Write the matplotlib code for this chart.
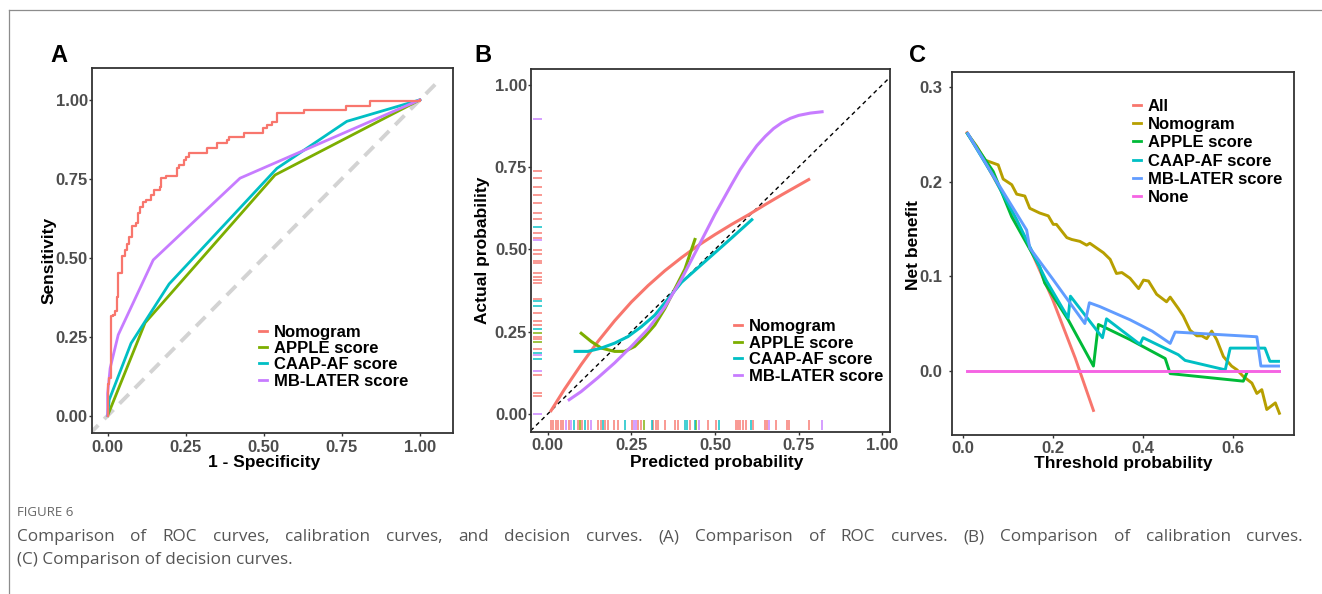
import matplotlib
matplotlib.use("Agg")
import matplotlib.pyplot as plt
from matplotlib.lines import Line2D

plt.rcParams['font.family'] = ['Liberation Sans', 'DejaVu Sans']

# ---- colours (ggplot hue palette) ----
models = ['Nomogram', 'APPLE score', 'CAAP-AF score', 'MB-LATER score']
colors4 = ['#F8766D', '#7CAE00', '#00BFC4', '#C77CFF']
dca_labels = ['All', 'Nomogram', 'APPLE score', 'CAAP-AF score', 'MB-LATER score', 'None']
colors6 = ['#F8766D', '#B79F00', '#00BA38', '#00BFC4', '#619CFF', '#F564E3']

# ---- A: ROC curves ----
roc_nomo_fpr = [0, 0, 0.004, 0.010, 0.017, 0.023, 0.029, 0.034, 0.047, 0.055,
                0.062, 0.068, 0.077, 0.091, 0.098, 0.103, 0.112, 0.123, 0.139, 0.150,
                0.167, 0.172, 0.186, 0.223, 0.230, 0.244, 0.250, 0.260, 0.317, 0.349,
                0.383, 0.389, 0.437, 0.498, 0.509, 0.525, 0.541, 0.543, 0.628, 0.762,
                0.840, 1.0]
roc_nomo_tpr = [0, 0.10, 0.12, 0.314, 0.320, 0.330, 0.377, 0.451, 0.504, 0.525,
                0.545, 0.567, 0.599, 0.609, 0.641, 0.662, 0.675, 0.683, 0.699, 0.715,
                0.725, 0.752, 0.759, 0.784, 0.794, 0.810, 0.820, 0.833, 0.847, 0.863,
                0.873, 0.884, 0.896, 0.910, 0.921, 0.931, 0.942, 0.960, 0.968, 0.982,
                0.995, 1.0]
roc_apple_fpr = [0, 0.120, 0.536, 1.0]
roc_apple_tpr = [0, 0.294, 0.762, 1.0]
roc_caap_fpr = [0, 0.005, 0.075, 0.197, 0.542, 0.766, 1.0]
roc_caap_tpr = [0, 0.050, 0.229, 0.417, 0.783, 0.932, 1.0]
roc_mb_fpr = [0, 0, 0.008, 0.034, 0.146, 0.424, 1.0]
roc_mb_tpr = [0, 0.07, 0.15, 0.256, 0.493, 0.752, 1.0]

# ---- B: calibration curves ----
cal_nomo_x = [0.01, 0.05, 0.10, 0.15, 0.20, 0.25, 0.30, 0.35, 0.40, 0.45, 0.50, 0.55, 0.60, 0.65, 0.70, 0.78]
cal_nomo_y = [0.01, 0.075, 0.15, 0.22, 0.283, 0.34, 0.39, 0.435, 0.475, 0.512, 0.545, 0.576, 0.605,
              0.636, 0.666, 0.712]
cal_apple_x = [0.10, 0.13, 0.16, 0.20, 0.23, 0.26, 0.29, 0.32, 0.35, 0.38, 0.41, 0.44]
cal_apple_y = [0.245, 0.22, 0.20, 0.19, 0.19, 0.205, 0.235, 0.27, 0.32, 0.38, 0.44, 0.53]
cal_caap_x = [0.082, 0.12, 0.16, 0.20, 0.24, 0.28, 0.32, 0.36, 0.40, 0.45, 0.50, 0.55, 0.61]
cal_caap_y = [0.19, 0.19, 0.20, 0.215, 0.235, 0.265, 0.30, 0.35, 0.40, 0.445, 0.49, 0.535, 0.59]
cal_mb_x = [0.064, 0.10, 0.15, 0.20, 0.25, 0.30, 0.35, 0.40, 0.45, 0.50, 0.55, 0.575, 0.60, 0.625,
            0.65, 0.675, 0.70, 0.725, 0.75, 0.785, 0.82]
cal_mb_y = [0.043, 0.068, 0.11, 0.155, 0.205, 0.258, 0.325, 0.41, 0.508, 0.607, 0.698, 0.742, 0.78,
            0.815, 0.843, 0.867, 0.885, 0.898, 0.907, 0.914, 0.918]

# rug marks (predicted on x, observed on y)
rug_x = [
    [0.010, 0.017, 0.025, 0.032, 0.039, 0.047, 0.063, 0.089, 0.103, 0.120, 0.151, 0.158, 0.171,
     0.181, 0.199, 0.209, 0.253, 0.269, 0.278, 0.316, 0.323, 0.330, 0.350, 0.380, 0.390, 0.425,
     0.480, 0.503, 0.562, 0.568, 0.575, 0.583, 0.592, 0.614, 0.649, 0.654, 0.682, 0.716, 0.721, 0.782],
    [0.097, 0.288, 0.443],
    [0.080, 0.111, 0.166, 0.231, 0.311, 0.410, 0.417, 0.440, 0.513, 0.609],
    [0.055, 0.070, 0.129, 0.259, 0.263, 0.452, 0.662, 0.820],
]
rug_y = [
    [0.737, 0.716, 0.689, 0.664, 0.640, 0.610, 0.592, 0.551, 0.534, 0.498, 0.486, 0.466, 0.458,
     0.428, 0.415, 0.407, 0.397, 0.350, 0.306, 0.281, 0.271, 0.235, 0.227, 0.197, 0.119, 0.065, 0.053],
    [0.245, 0.217],
    [0.569, 0.344, 0.328, 0.257, 0.184, 0.167],
    [0.896, 0.529, 0.179, 0.131, 0.0],
]

# ---- C: decision curves ----
dca_all_x = [0.01, 0.05, 0.10, 0.15, 0.20, 0.25, 0.29]
dca_all_y = [0.252, 0.221, 0.178, 0.129, 0.075, 0.013, -0.042]
dca_nomo_x = [0.011, 0.031, 0.050, 0.079, 0.090, 0.109, 0.120, 0.138, 0.149, 0.171, 0.190, 0.201,
              0.208, 0.231, 0.242, 0.260, 0.275, 0.282, 0.297, 0.312, 0.327, 0.341, 0.353, 0.371,
              0.390, 0.401, 0.412, 0.430, 0.452, 0.460, 0.478, 0.489, 0.504, 0.519, 0.530, 0.541,
              0.552, 0.563, 0.578, 0.596, 0.608, 0.622, 0.641, 0.652, 0.663, 0.674, 0.693, 0.702]
dca_nomo_y = [0.251, 0.238, 0.223, 0.218, 0.203, 0.197, 0.187, 0.185, 0.172, 0.167, 0.164, 0.155,
              0.155, 0.141, 0.139, 0.137, 0.133, 0.135, 0.130, 0.125, 0.118, 0.103, 0.104, 0.098,
              0.087, 0.096, 0.095, 0.081, 0.073, 0.078, 0.066, 0.058, 0.043, 0.037, 0.037, 0.034,
              0.042, 0.033, 0.015, 0.005, 0.001, -0.006, -0.013, -0.024, -0.020, -0.041, -0.034, -0.045]
dca_apple_x = [0.011, 0.068, 0.109, 0.171, 0.182, 0.234, 0.290, 0.301, 0.319, 0.371, 0.449, 0.460, 0.622, 0.630]
dca_apple_y = [0.251, 0.211, 0.163, 0.110, 0.093, 0.054, 0.005, 0.049, 0.045, 0.033, 0.013, -0.003, -0.011, -0.002]
dca_caap_x = [0.011, 0.068, 0.120, 0.185, 0.234, 0.239, 0.310, 0.319, 0.393, 0.400, 0.478, 0.493,
              0.582, 0.593, 0.670, 0.681, 0.700]
dca_caap_y = [0.251, 0.206, 0.160, 0.096, 0.056, 0.079, 0.035, 0.055, 0.028, 0.035, 0.017, 0.011,
              0.001, 0.024, 0.024, 0.010, 0.010]
dca_mb_x = [0.012, 0.070, 0.142, 0.149, 0.200, 0.271, 0.281, 0.304, 0.371, 0.420, 0.460, 0.471,
            0.652, 0.661, 0.700]
dca_mb_y = [0.251, 0.205, 0.149, 0.130, 0.097, 0.050, 0.072, 0.068, 0.054, 0.042, 0.029, 0.041,
            0.036, 0.005, 0.005]
dca_none_x = [0.011, 0.700]
dca_none_y = [0.0, 0.0]

caption_title = "FIGURE 6"
caption_line1 = ("Comparison of ROC curves, calibration curves, and decision curves. (A) Comparison "
                 "of ROC curves. (B) Comparison of calibration curves.")
caption_line2 = "(C) Comparison of decision curves."

W, H = 1322, 594
fig = plt.figure(figsize=(W / 100, H / 100), dpi=100)


def px_axes(left, top, right, bottom):
    # axes from pixel box (y measured from top)
    return fig.add_axes([left / W, 1 - bottom / H, (right - left) / W, (bottom - top) / H])


def style_axes(ax, ypad):
    for sp in ax.spines.values():
        sp.set_color('#333333')
        sp.set_linewidth(1.3)
    ax.tick_params(axis='both', colors='#333333', length=2.5, width=1.0, labelsize=12,
                   labelcolor='#4D4D4D')
    ax.tick_params(axis='x', pad=2)
    ax.tick_params(axis='y', pad=ypad)
    for lab in ax.get_xticklabels() + ax.get_yticklabels():
        lab.set_fontweight('bold')


def legend(ax, labels, colors, anchor, spacing, key_lw):
    handles = [Line2D([], [], color=c, lw=key_lw) for c in colors]
    leg = ax.legend(handles, labels, loc='upper left', bbox_to_anchor=anchor,
                    frameon=True, facecolor='white', edgecolor='none', framealpha=1,
                    fancybox=False, borderpad=0.05, borderaxespad=0, handlelength=0.5,
                    handletextpad=0.4, labelspacing=spacing,
                    prop={'weight': 'bold', 'size': 12})
    return leg


# ---------------- Panel A ----------------
axA = px_axes(91.7, 68.3, 453, 433.3)
axA.plot([-0.06, 1.054], [-0.06, 1.054], color='#D3D3D3', lw=2.8, ls=(0, (3.4, 2.2)))
axA.plot(roc_apple_fpr, roc_apple_tpr, color=colors4[1], lw=2)
axA.plot(roc_caap_fpr, roc_caap_tpr, color=colors4[2], lw=2)
axA.plot(roc_mb_fpr, roc_mb_tpr, color=colors4[3], lw=2)
axA.plot(roc_nomo_fpr, roc_nomo_tpr, color=colors4[0], lw=1.6, drawstyle='steps-post')
axA.set_xlim(-0.051, 1.106)
axA.set_ylim(-0.056, 1.10)
ticks = [0, 0.25, 0.5, 0.75, 1.0]
axA.set_xticks(ticks)
axA.set_yticks(ticks)
axA.set_xticklabels(['0.00', '0.25', '0.50', '0.75', '1.00'])
axA.set_yticklabels(['0.00', '0.25', '0.50', '0.75', '1.00'])
style_axes(axA, 0.3)
legend(axA, models, colors4, (0.46, 0.300), 0.08, 2)

# ---------------- Panel B ----------------
axB = px_axes(531, 69.3, 890, 431.7)
axB.plot([-0.1, 1.1], [-0.1, 1.1], color='black', lw=1.0, ls=(0, (3, 2.5)))
cal_series = [(cal_nomo_x, cal_nomo_y), (cal_apple_x, cal_apple_y),
              (cal_caap_x, cal_caap_y), (cal_mb_x, cal_mb_y)]
for (cx, cy), col in zip(cal_series, colors4):
    axB.plot(cx, cy, color=col, lw=2.2)
# rugs
for rx, ry, col in zip(rug_x, rug_y, colors4):
    axB.vlines(rx, 0.004, 0.032, color=col, lw=1.3, alpha=0.8, transform=axB.get_xaxis_transform())
    axB.hlines(ry, 0.005, 0.030, color=col, lw=1.3, alpha=0.8, transform=axB.get_yaxis_transform())
axB.set_xlim(-0.05, 1.023)
axB.set_ylim(-0.054, 1.047)
axB.set_xticks(ticks)
axB.set_yticks(ticks)
axB.set_xticklabels(['0.00', '0.25', '0.50', '0.75', '1.00'])
axB.set_yticklabels(['0.00', '0.25', '0.50', '0.75', '1.00'])
style_axes(axB, 0.3)
legend(axB, models, colors4, (0.5627, 0.3137), 0.1, 2)

# ---------------- Panel C ----------------
axC = px_axes(951.7, 72.3, 1294.3, 435)
dca_series = [(dca_all_x, dca_all_y), (dca_nomo_x, dca_nomo_y), (dca_apple_x, dca_apple_y),
              (dca_caap_x, dca_caap_y), (dca_mb_x, dca_mb_y), (dca_none_x, dca_none_y)]
for (dx, dy), col in zip(dca_series, colors6):
    axC.plot(dx, dy, color=col, lw=2.1)
axC.set_xlim(-0.024, 0.735)
axC.set_ylim(-0.068, 0.316)
axC.set_xticks([0, 0.2, 0.4, 0.6])
axC.set_yticks([0, 0.1, 0.2, 0.3])
axC.set_xticklabels(['0.0', '0.2', '0.4', '0.6'])
axC.set_yticklabels(['0.0', '0.1', '0.2', '0.3'])
style_axes(axC, 4)
legend(axC, dca_labels, colors6, (0.5254, 0.930), 0.2, 2)

# ---------------- axis titles and panel letters ----------------
title_kw = dict(fontsize=12.5, fontweight='bold', color='black', ha='center', va='center')
fig.text(263.8 / W, 1 - 462.7 / H, '1 - Specificity', **title_kw)
fig.text(49.5 / W, 1 - 260 / H, 'Sensitivity', rotation=90, **title_kw)
fig.text(716.7 / W, 1 - 462.7 / H, 'Predicted probability', **title_kw)
fig.text(482 / W, 1 - 250 / H, 'Actual probability', rotation=90, **title_kw)
fig.text(1123.3 / W, 1 - 463.3 / H, 'Threshold probability', **title_kw)
fig.text(913.3 / W, 1 - 245 / H, 'Net benefit', rotation=90, **title_kw)

letter_kw = dict(fontsize=17, fontweight='bold', color='black', ha='center', va='center')
fig.text(59 / W, 1 - 56 / H, 'A', **letter_kw)
fig.text(483 / W, 1 - 55 / H, 'B', **letter_kw)
fig.text(918 / W, 1 - 56 / H, 'C', **letter_kw)

# ---------------- page frame ----------------
fig.add_artist(Line2D([9 / W, 1], [1 - 10 / H, 1 - 10 / H], color='#8C8C8C', lw=0.9))
fig.add_artist(Line2D([9 / W, 9 / W], [1 - 10 / H, 0], color='#8C8C8C', lw=0.9))

# ---------------- caption ----------------
cap_font = ['Open Sans', 'DejaVu Sans']
fig.text(17 / W, 1 - 513 / H, caption_title, fontsize=9.5, color='#666666',
         family=cap_font, va='center', ha='left')
renderer = fig.canvas.get_renderer()
words = caption_line1.split()
word_texts = [fig.text(0, 1 - 537 / H, w, fontsize=12.3, color='#555555', family=cap_font,
                       va='center', ha='left') for w in words]
widths = [t.get_window_extent(renderer).width for t in word_texts]
left_px, right_px = 17, 1303
gap = (right_px - left_px - sum(widths)) / (len(words) - 1)
xpos = left_px
for t, wd in zip(word_texts, widths):
    t.set_x(xpos / W)
    xpos += wd + gap
fig.text(17 / W, 1 - 560 / H, caption_line2, fontsize=12.3, color='#555555',
         family=cap_font, va='center', ha='left')

fig.savefig('out.png', dpi=100)
